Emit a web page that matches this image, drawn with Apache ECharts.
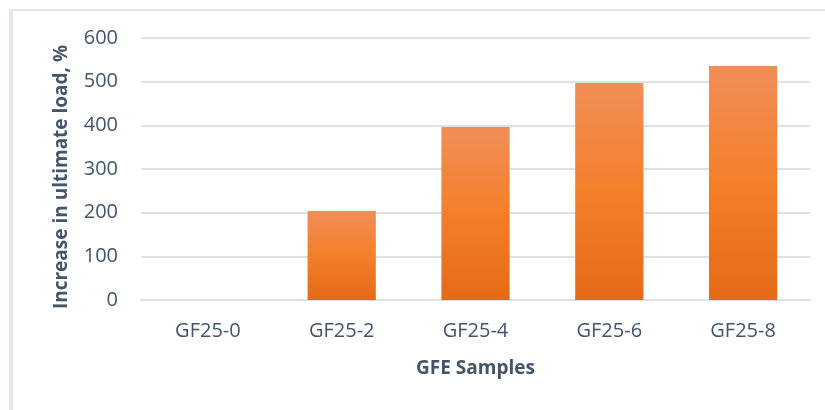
<!DOCTYPE html>
<html>
<head>
<meta charset="utf-8">
<script src="https://cdn.jsdelivr.net/npm/echarts@6/dist/echarts.min.js"></script>
<style>
  html, body { margin: 0; padding: 0; background: #ffffff; }
  #chart { width: 825px; height: 410px; }
</style>
</head>
<body>
<div id="chart"></div>
<script>
// Sample names along the x axis
const categories = ['GF25-0', 'GF25-2', 'GF25-4', 'GF25-6', 'GF25-8'];
// Increase in ultimate load (%) per sample
const loadIncrease = [0, 204, 396, 497, 536];
// Value axis ticks
const yTicks = [0, 100, 200, 300, 400, 500, 600];

const textColor = '#44546A';
const fontFamily = '"Open Sans", sans-serif';

const chart = echarts.init(document.getElementById('chart'), null, { renderer: 'canvas' });

chart.setOption({
  animation: false,
  backgroundColor: '#ffffff',
  graphic: [
    // chart area frame (left and top edges)
    { type: 'rect', shape: { x: 9, y: 9, width: 4, height: 410 }, style: { fill: '#E3E7EE' }, silent: true },
    { type: 'rect', shape: { x: 9, y: 9, width: 830, height: 2 }, style: { fill: '#E3E7EE' }, silent: true }
  ],
  grid: { left: 141, right: 15, top: 38, bottom: 110, containLabel: false },
  xAxis: {
    type: 'category',
    data: categories,
    name: 'GFE Samples',
    nameLocation: 'middle',
    nameGap: 59,
    nameTextStyle: { color: textColor, fontSize: 19, fontWeight: 'bold', fontFamily: fontFamily },
    axisLine: { show: true, lineStyle: { color: '#DDE2EA', width: 2 } },
    axisTick: { show: false },
    axisLabel: { color: textColor, fontSize: 20, fontFamily: fontFamily, margin: 21 }
  },
  yAxis: {
    type: 'value',
    min: yTicks[0],
    max: yTicks[yTicks.length - 1],
    interval: yTicks[1] - yTicks[0],
    name: 'Increase in ultimate load, %',
    nameLocation: 'middle',
    nameGap: 70,
    nameTextStyle: {
      color: textColor, fontSize: 19, fontWeight: 'bold', fontFamily: fontFamily,
      padding: [0, 16, 0, 0]
    },
    axisLine: { show: false },
    axisTick: { show: false },
    axisLabel: { color: textColor, fontSize: 20, fontFamily: fontFamily, margin: 23 },
    splitLine: { show: true, lineStyle: { color: '#DDE2EA', width: 2 } }
  },
  series: [{
    type: 'bar',
    data: loadIncrease,
    barWidth: '51%',
    itemStyle: {
      color: new echarts.graphic.LinearGradient(0, 0, 0, 1, [
        { offset: 0, color: '#F08E58' },
        { offset: 0.5, color: '#F47F2A' },
        { offset: 1, color: '#E46A17' }
      ])
    }
  }]
});
</script>
</body>
</html>
